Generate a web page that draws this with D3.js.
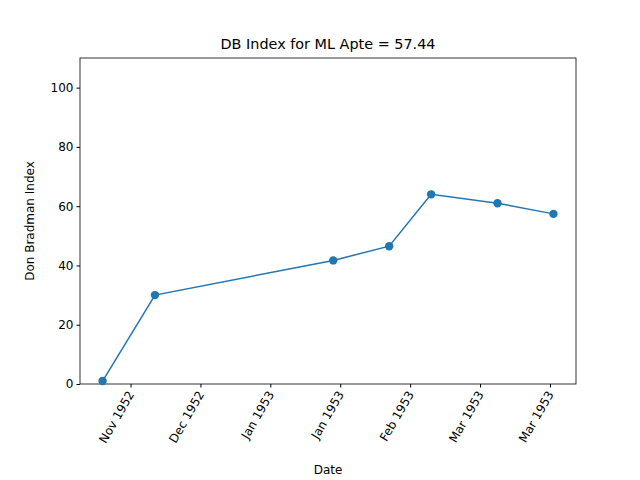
<!DOCTYPE html>
<html><head><meta charset="utf-8">
<script src="https://cdn.jsdelivr.net/npm/d3@7"></script>
<style>body{margin:0;background:#fff}text{font-family:"DejaVu Sans",sans-serif}</style>
</head><body><svg id="chart" width="640" height="480"></svg>
<script>
// data
const dates = ["1952-11-16", "1952-12-01", "1953-01-21", "1953-02-06", "1953-02-18", "1953-03-09", "1953-03-25"];
const values = [1.0, 30.0, 41.7, 46.5, 64.0, 61.0, 57.4];
const tickDates = ["1952-11-24", "1952-12-14", "1953-01-03", "1953-01-23", "1953-02-12", "1953-03-04", "1953-03-24"];
const yTicks = [0, 20, 40, 60, 80, 100];

const parse = d3.timeParse("%Y-%m-%d");
const data = dates.map((d, i) => ({date: parse(d), v: values[i]}));

const margin = {top: 58, right: 64, bottom: 96, left: 80},
      width = 640 - margin.left - margin.right,
      height = 480 - margin.top - margin.bottom;

const svg = d3.select("#chart");
const g = svg.append("g").attr("transform", "translate(" + margin.left + "," + margin.top + ")");

// matplotlib-ish 5% margins on x
const ext = d3.extent(data, d => d.date);
const pad = (ext[1] - ext[0]) * 0.05;
const x = d3.scaleTime().domain([new Date(+ext[0] - pad), new Date(+ext[1] + pad)]).range([0, width]);
const y = d3.scaleLinear().domain([0, 110]).range([height, 0]);

const xAxis = d3.axisBottom(x).tickValues(tickDates.map(parse)).tickFormat(d3.timeFormat("%b %Y")).tickSizeOuter(0).tickSize(3.5);
const gx = g.append("g").attr("transform", "translate(0," + height + ")").call(xAxis);
gx.selectAll("text").attr("font-size", 12).attr("text-anchor", "end")
  .attr("x", 0).attr("y", 0).attr("dy", "0.35em")
  .attr("transform", "translate(0,8) rotate(-60)");

const gy = g.append("g").call(d3.axisLeft(y).tickValues(yTicks).tickSizeOuter(0).tickSize(3.5));
gy.selectAll("text").attr("font-size", 12);
svg.selectAll(".domain").remove();

g.append("rect").attr("width", width).attr("height", height).attr("fill", "none").attr("stroke", "#000").attr("stroke-width", 0.8);

const line = d3.line().x(d => x(d.date)).y(d => y(d.v));
g.append("path").datum(data).attr("d", line).attr("fill", "none").attr("stroke", "#1f77b4").attr("stroke-width", 1.5);
g.selectAll("circle").data(data).enter().append("circle")
  .attr("cx", d => x(d.date)).attr("cy", d => y(d.v)).attr("r", 4.2).attr("fill", "#1f77b4");

svg.append("text").attr("x", margin.left + width / 2).attr("y", 49).attr("text-anchor", "middle")
  .attr("font-size", 14.4).text("DB Index for ML Apte = 57.44");
svg.append("text").attr("x", margin.left + width / 2).attr("y", 474).attr("text-anchor", "middle")
  .attr("font-size", 12).text("Date");
svg.append("text").attr("transform", "translate(34," + (margin.top + height / 2) + ") rotate(-90)")
  .attr("text-anchor", "middle").attr("font-size", 12).text("Don Bradman Index");
</script></body></html>
